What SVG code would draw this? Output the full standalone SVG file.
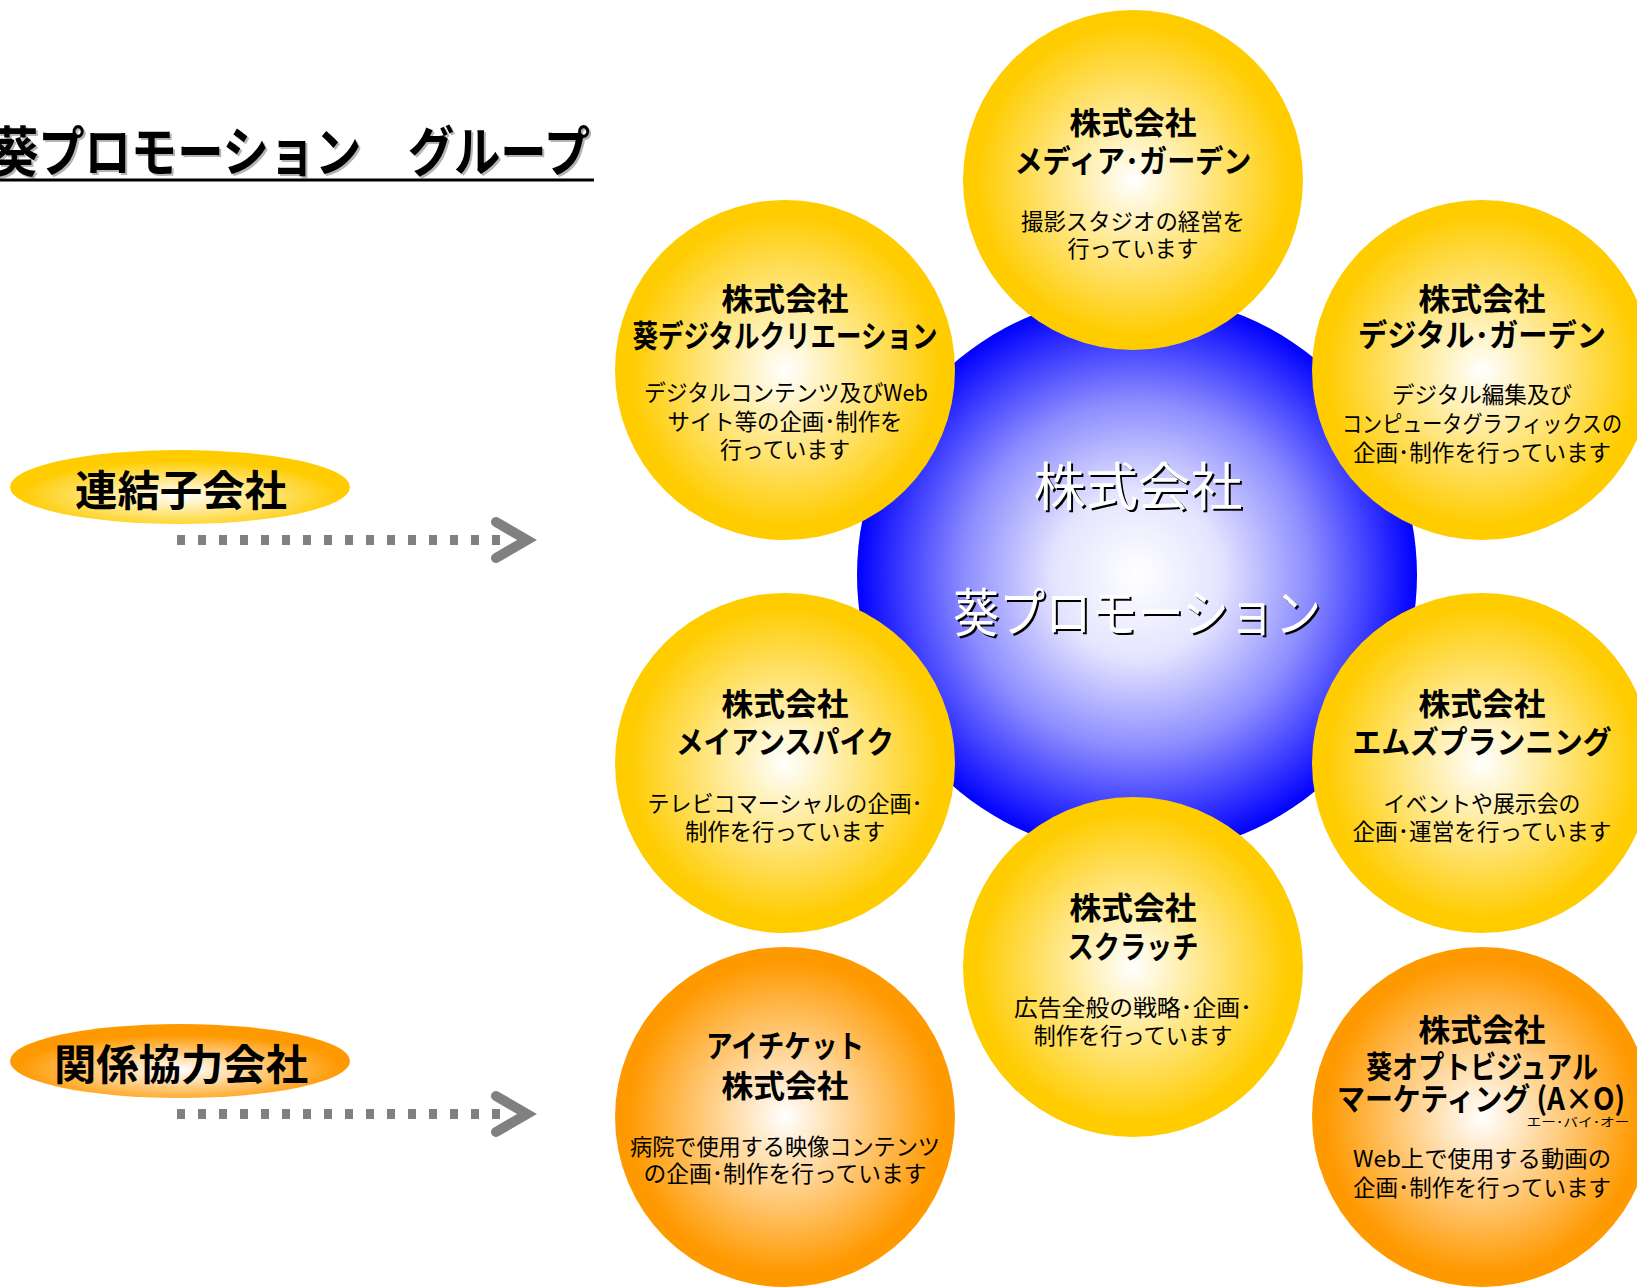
<svg xmlns="http://www.w3.org/2000/svg" width="1637" height="1287" viewBox="0 0 1637 1287">
<defs>
<radialGradient id="gY" cx="50%" cy="50%" r="50%"><stop offset="0" stop-color="#FFFFFF"/><stop offset="0.92" stop-color="#FFCC00"/><stop offset="1" stop-color="#FFCC00"/></radialGradient>
<radialGradient id="gO" cx="50%" cy="50%" r="50%"><stop offset="0" stop-color="#FFFFFF"/><stop offset="0.92" stop-color="#FF9900"/><stop offset="1" stop-color="#FF9900"/></radialGradient>
<radialGradient id="gB" cx="50%" cy="50%" r="50%"><stop offset="0" stop-color="#FFFFFF"/><stop offset="0.3" stop-color="#E4E4FF"/><stop offset="0.62" stop-color="#8C8CFF"/><stop offset="1" stop-color="#0000FF"/></radialGradient>
<radialGradient id="gEY" cx="50%" cy="62%" r="50%"><stop offset="0" stop-color="#FFFFFF"/><stop offset="0.95" stop-color="#FFCC00"/><stop offset="1" stop-color="#FFCC00"/></radialGradient>
<radialGradient id="gEO" cx="50%" cy="62%" r="50%"><stop offset="0" stop-color="#FFFFFF"/><stop offset="0.95" stop-color="#FF9900"/><stop offset="1" stop-color="#FF9900"/></radialGradient>
</defs>
<style>
text{font-family:"Noto Sans CJK JP","Noto Sans CJK SC",sans-serif;fill:#000;text-anchor:middle;}
.t{font-size:31px;font-weight:700;}
.d{font-size:22.5px;font-weight:400;}
.lbl{font-size:42px;font-weight:700;}
.cw{font-size:52px;font-weight:400;fill:#FFFFFF;}
.cs{font-size:52px;font-weight:400;fill:#000000;}
.dash{fill:none;stroke:#808080;stroke-width:10;stroke-dasharray:8 13;}
.chev{fill:none;stroke:#808080;stroke-width:10;stroke-linecap:round;stroke-linejoin:miter;}
</style>
<rect x="0" y="0" width="1637" height="1287" fill="#FFFFFF"/>

<g id="title">
<text x="-6" y="174" style="font-size:54px;font-weight:700;text-anchor:start;fill:#B4B4B4" textLength="598" lengthAdjust="spacingAndGlyphs">葵プロモーション　グループ</text>
<text x="-8" y="172" style="font-size:54px;font-weight:700;text-anchor:start" textLength="598" lengthAdjust="spacingAndGlyphs">葵プロモーション　グループ</text>
<line x1="0" y1="180" x2="594" y2="180" stroke="#000" stroke-width="3"/>
</g>

<g id="label-renketsu">
<ellipse cx="180" cy="487" rx="170" ry="37" fill="url(#gEY)"/>
<text class="lbl" x="181" y="506" textLength="212" lengthAdjust="spacingAndGlyphs">連結子会社</text>
</g>
<g id="label-kankei">
<ellipse cx="180" cy="1061" rx="170" ry="37" fill="url(#gEO)"/>
<text class="lbl" x="181" y="1080" textLength="254" lengthAdjust="spacingAndGlyphs">関係協力会社</text>
</g>

<g id="connectors">
<line class="dash" x1="177" y1="540" x2="508" y2="540"/>
<polyline class="chev" points="496,522 527,540 496,558"/>
<line class="dash" x1="177" y1="1114" x2="508" y2="1114"/>
<polyline class="chev" points="496,1096 527,1114 496,1132"/>
</g>

<g id="center">
<circle cx="1137" cy="575" r="280" fill="url(#gB)"/>
<text class="cs" x="1140" y="508" textLength="209" lengthAdjust="spacingAndGlyphs">株式会社</text>
<text class="cw" x="1138" y="506" textLength="209" lengthAdjust="spacingAndGlyphs">株式会社</text>
<text class="cs" x="1139" y="634" textLength="368" lengthAdjust="spacingAndGlyphs">葵プロモーション</text>
<text class="cw" x="1137" y="632" textLength="368" lengthAdjust="spacingAndGlyphs">葵プロモーション</text>
</g>

<g id="media-garden">
<circle cx="1133" cy="180" r="170" fill="url(#gY)"/>
<text class="t" x="1133" y="134" textLength="127" lengthAdjust="spacingAndGlyphs">株式会社</text>
<text class="t" x="1133" y="172" textLength="237" lengthAdjust="spacingAndGlyphs">メディア･ガーデン</text>
<text class="d" x="1133" y="230" textLength="224" lengthAdjust="spacingAndGlyphs">撮影スタジオの経営を</text>
<text class="d" x="1133" y="257" textLength="131" lengthAdjust="spacingAndGlyphs">行っています</text>
</g>

<g id="aoi-digital-creation">
<circle cx="785" cy="370" r="170" fill="url(#gY)"/>
<text class="t" x="785" y="310" textLength="127" lengthAdjust="spacingAndGlyphs">株式会社</text>
<text class="t" x="785" y="347" textLength="305" lengthAdjust="spacingAndGlyphs">葵デジタルクリエーション</text>
<text class="d" x="786" y="401" textLength="284" lengthAdjust="spacingAndGlyphs">デジタルコンテンツ及びWeb</text>
<text class="d" x="785" y="430" textLength="235" lengthAdjust="spacingAndGlyphs">サイト等の企画･制作を</text>
<text class="d" x="785" y="458" textLength="130" lengthAdjust="spacingAndGlyphs">行っています</text>
</g>

<g id="digital-garden">
<circle cx="1482" cy="370" r="170" fill="url(#gY)"/>
<text class="t" x="1482" y="310" textLength="127" lengthAdjust="spacingAndGlyphs">株式会社</text>
<text class="t" x="1482" y="346" textLength="248" lengthAdjust="spacingAndGlyphs">デジタル･ガーデン</text>
<text class="d" x="1482" y="403" textLength="180" lengthAdjust="spacingAndGlyphs">デジタル編集及び</text>
<text class="d" x="1482" y="432" textLength="280" lengthAdjust="spacingAndGlyphs">コンピュータグラフィックスの</text>
<text class="d" x="1482" y="461" textLength="258" lengthAdjust="spacingAndGlyphs">企画･制作を行っています</text>
</g>

<g id="meian-spike">
<circle cx="785" cy="763" r="170" fill="url(#gY)"/>
<text class="t" x="785" y="715" textLength="127" lengthAdjust="spacingAndGlyphs">株式会社</text>
<text class="t" x="785" y="753" textLength="218" lengthAdjust="spacingAndGlyphs">メイアンスパイク</text>
<text class="d" x="785" y="812" textLength="275" lengthAdjust="spacingAndGlyphs">テレビコマーシャルの企画･</text>
<text class="d" x="785" y="840" textLength="200" lengthAdjust="spacingAndGlyphs">制作を行っています</text>
</g>

<g id="ms-planning">
<circle cx="1482" cy="763" r="170" fill="url(#gY)"/>
<text class="t" x="1482" y="715" textLength="127" lengthAdjust="spacingAndGlyphs">株式会社</text>
<text class="t" x="1482" y="753" textLength="259" lengthAdjust="spacingAndGlyphs">エムズプランニング</text>
<text class="d" x="1482" y="812" textLength="197" lengthAdjust="spacingAndGlyphs">イベントや展示会の</text>
<text class="d" x="1482" y="840" textLength="259" lengthAdjust="spacingAndGlyphs">企画･運営を行っています</text>
</g>

<g id="scratch">
<circle cx="1133" cy="967" r="170" fill="url(#gY)"/>
<text class="t" x="1133" y="919" textLength="127" lengthAdjust="spacingAndGlyphs">株式会社</text>
<text class="t" x="1133" y="958" textLength="131" lengthAdjust="spacingAndGlyphs">スクラッチ</text>
<text class="d" x="1133" y="1016" textLength="238" lengthAdjust="spacingAndGlyphs">広告全般の戦略･企画･</text>
<text class="d" x="1133" y="1044" textLength="199" lengthAdjust="spacingAndGlyphs">制作を行っています</text>
</g>

<g id="ai-ticket">
<circle cx="785" cy="1117" r="170" fill="url(#gO)"/>
<text class="t" x="785" y="1057" textLength="158" lengthAdjust="spacingAndGlyphs">アイチケット</text>
<text class="t" x="785" y="1097" textLength="127" lengthAdjust="spacingAndGlyphs">株式会社</text>
<text class="d" x="785" y="1155" textLength="310" lengthAdjust="spacingAndGlyphs">病院で使用する映像コンテンツ</text>
<text class="d" x="785" y="1182" textLength="283" lengthAdjust="spacingAndGlyphs">の企画･制作を行っています</text>
</g>

<g id="aoi-opt-visual">
<circle cx="1482" cy="1117" r="170" fill="url(#gO)"/>
<text class="t" x="1482" y="1041" textLength="127" lengthAdjust="spacingAndGlyphs">株式会社</text>
<text class="t" x="1482" y="1078" textLength="232" lengthAdjust="spacingAndGlyphs">葵オプトビジュアル</text>
<text class="t" x="1481" y="1110" textLength="288" lengthAdjust="spacingAndGlyphs">マーケティング (A×O)</text>
<text x="1578" y="1127" style="font-size:12.5px" textLength="103" lengthAdjust="spacingAndGlyphs">エー･バイ･オー</text>
<text class="d" x="1482" y="1167" textLength="258" lengthAdjust="spacingAndGlyphs">Web上で使用する動画の</text>
<text class="d" x="1482" y="1196" textLength="258" lengthAdjust="spacingAndGlyphs">企画･制作を行っています</text>
</g>
</svg>
